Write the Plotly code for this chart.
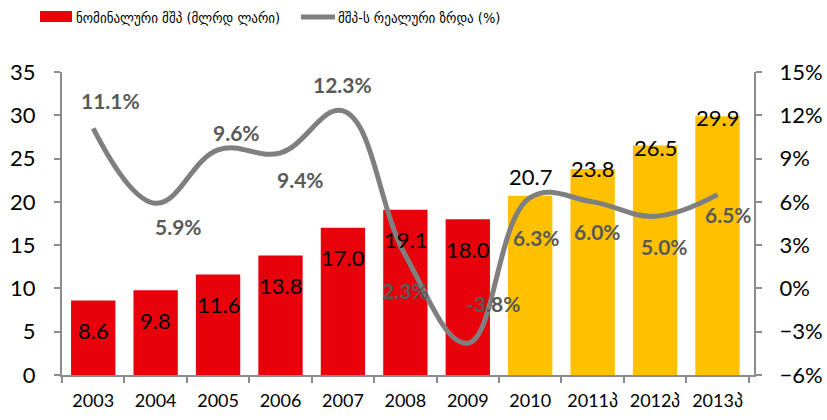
import plotly.graph_objects as go

years = ["2003", "2004", "2005", "2006", "2007", "2008", "2009", "2010",
         "2011პ", "2012პ", "2013პ"]
gdp_nominal = [8.6, 9.8, 11.6, 13.8, 17.0, 19.1, 18.0, 20.7, 23.8, 26.5, 29.9]
gdp_growth = [11.1, 5.9, 9.6, 9.4, 12.3, 2.3, -3.8, 6.3, 6.0, 5.0, 6.5]
is_forecast = [False] * 7 + [True] * 4

name_bar = "ნომინალური მშპ (მლრდ ლარი)"
name_line = "მშპ-ს რეალური ზრდა (%)"

RED = "#E8000B"
YELLOW = "#FFC000"
GRAY_LINE = "#7F7F7F"
AXIS = "#8C8C8C"
LABEL_GRAY = "#595959"
FONT = "Lato"
GEO_FONT = "DejaVu Sans Condensed, DejaVu Sans"

bar_colors = [YELLOW if f else RED for f in is_forecast]

# label pixel offsets (style only)
bar_label_dy = [-30, -30, -30, -30, -30, -30, -30, 19, 0, -2, -1]
line_label_dx = [17, 23, 18, 20, 0, 0, 25, 6, 5, 9, 11]
line_label_dy = [28, -23, 17, -27, 26, -35, 40, -40, -30, -30, -20]

W, H = 827, 420
L, R, T, B = 62, 73, 72, 45
pw, ph = W - L - R, H - T - B


def px_x(p):
    return (p - L) / pw


def px_y(p):
    return 1 - (p - T) / ph


fig = go.Figure()
fig.add_trace(go.Bar(
    x=years, y=gdp_nominal, name=name_bar, marker_color=bar_colors,
    marker_line_width=0, yaxis="y", showlegend=False,
))
fig.add_trace(go.Scatter(
    x=years, y=gdp_growth, name=name_line, mode="lines", yaxis="y2",
    line=dict(color=GRAY_LINE, width=5, shape="spline", smoothing=1.15),
    showlegend=False,
))

annotations = []
for i, (v, dy) in enumerate(zip(gdp_nominal, bar_label_dy)):
    annotations.append(dict(
        x=i, y=v, xref="x", yref="y", text=f"{v:.1f}", showarrow=False,
        yshift=dy, font=dict(family=FONT, size=22, color="#000000"),
    ))
for i, (v, dx, dy) in enumerate(zip(gdp_growth, line_label_dx, line_label_dy)):
    annotations.append(dict(
        x=i, y=v, xref="x", yref="y2", text=f"{v:.1f}%", showarrow=False,
        xshift=dx, yshift=dy,
        font=dict(family=FONT, size=21, color=LABEL_GRAY, weight="bold"),
    ))

# manual legend
annotations.append(dict(
    x=px_x(74), y=px_y(18), xref="paper", yref="paper", text=name_bar,
    showarrow=False, xanchor="left", yanchor="middle",
    font=dict(family=GEO_FONT, size=14.5, color="#000000"),
))
annotations.append(dict(
    x=px_x(336), y=px_y(18), xref="paper", yref="paper", text=name_line,
    showarrow=False, xanchor="left", yanchor="middle",
    font=dict(family=GEO_FONT, size=14.5, color="#000000"),
))

shapes = [
    dict(type="rect", xref="paper", yref="paper",
         x0=px_x(40), x1=px_x(72), y0=px_y(22), y1=px_y(11),
         fillcolor=RED, line_width=0),
    dict(type="line", xref="paper", yref="paper",
         x0=px_x(301), x1=px_x(335), y0=px_y(17), y1=px_y(17),
         line=dict(color=GRAY_LINE, width=5)),
]

fig.update_layout(
    width=W, height=H,
    margin=dict(l=L, r=R, t=T, b=B, pad=0, autoexpand=False),
    paper_bgcolor="white", plot_bgcolor="white",
    bargap=0.29,
    annotations=annotations,
    shapes=shapes,
    xaxis=dict(
        type="category", showline=True, linecolor=AXIS, linewidth=2,
        ticks="outside", tickson="boundaries", ticklen=6, tickcolor=AXIS,
        tickwidth=1.5, showgrid=False, tickangle=0, ticklabelstandoff=8,
        automargin=False,
        tickfont=dict(family=FONT, size=18, color="#000000"),
    ),
    yaxis=dict(
        range=[0, 35], dtick=5, showline=True, linecolor=AXIS, linewidth=2,
        ticks="outside", ticklen=6, tickcolor=AXIS, tickwidth=1.5,
        showgrid=False, zeroline=False, ticklabelstandoff=14,
        automargin=False,
        tickfont=dict(family=FONT, size=22, color="#000000"),
    ),
    yaxis2=dict(
        range=[-6, 15], dtick=3, ticksuffix="%", overlaying="y", side="right",
        showline=True, linecolor=AXIS, linewidth=2,
        ticks="outside", ticklen=6, tickcolor=AXIS, tickwidth=1.5,
        showgrid=False, zeroline=False, ticklabelstandoff=13,
        automargin=False,
        tickfont=dict(family=FONT, size=22, color="#000000"),
    ),
)

fig.write_html("out.html", config={"displayModeBar": False},
               post_script="document.body.style.margin='0';")
